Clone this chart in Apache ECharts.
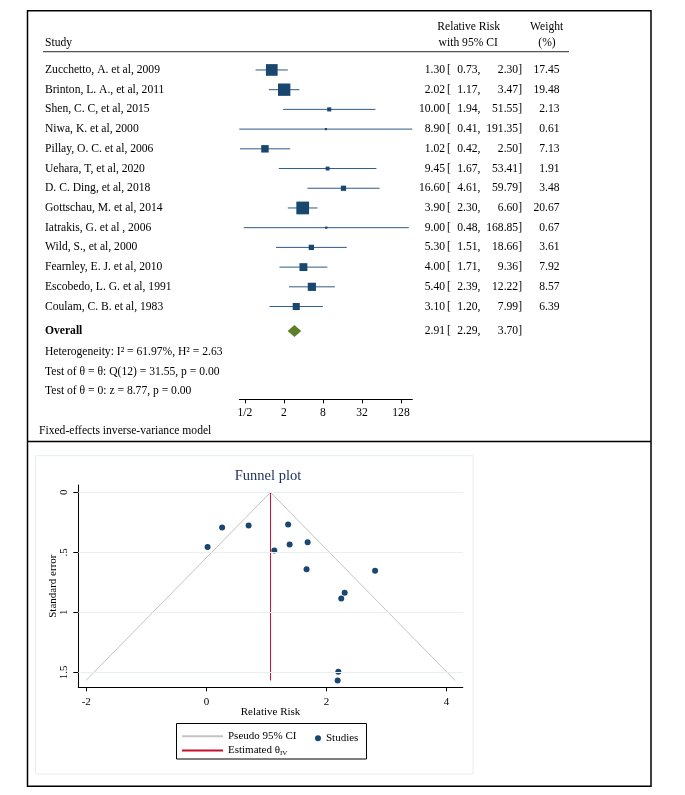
<!DOCTYPE html>
<html><head><meta charset="utf-8">
<script src="https://cdn.jsdelivr.net/npm/echarts@6.0.0/dist/echarts.min.js"></script>
<style>html,body{margin:0;padding:0;background:#fff}#c{width:685px;height:795px}</style>
</head><body><div id="c"></div>
<script>
// ---------- Forest plot data ----------
const studies = ['Zucchetto, A. et al, 2009','Brinton, L. A., et al, 2011','Shen, C. C, et al, 2015','Niwa, K. et al, 2000','Pillay, O. C. et al, 2006','Uehara, T, et al, 2020','D. C. Ding, et al, 2018','Gottschau, M. et al, 2014','Iatrakis, G. et al , 2006','Wild, S., et al, 2000','Fearnley, E. J. et al, 2010','Escobedo, L. G. et al, 1991','Coulam, C. B. et al, 1983'];
const rr      = [1.30, 2.02, 10.00, 8.90, 1.02, 9.45, 16.60, 3.90, 9.00, 5.30, 4.00, 5.40, 3.10];
const ciLow   = [0.73, 1.17, 1.94, 0.41, 0.42, 1.67, 4.61, 2.30, 0.48, 1.51, 1.71, 2.39, 1.20];
const ciHigh  = [2.30, 3.47, 51.55, 191.35, 2.50, 53.41, 59.79, 6.60, 168.85, 18.66, 9.36, 12.22, 7.99];
const weights = [17.45, 19.48, 2.13, 0.61, 7.13, 1.91, 3.48, 20.67, 0.67, 3.61, 7.92, 8.57, 6.39];
const overallLabel = 'Overall';
const overallRR = [2.91];
const overallLow = [2.29];
const overallHigh = [3.70];
const statLines = ['Heterogeneity: I\u00B2 = 61.97%, H\u00B2 = 2.63','Test of \u03B8 = \u03B8: Q(12) = 31.55, p = 0.00','Test of \u03B8 = 0: z = 8.77, p = 0.00'];
const footnote = 'Fixed-effects inverse-variance model';
const forestTicks = [0.5, 2, 8, 32, 128];
const forestTickLabels = ['1/2', '2', '8', '32', '128'];

// ---------- Funnel plot data ----------
const funnelLogRR = [0.262, 0.703, 2.303, 2.186, 0.020, 2.246, 2.809, 1.361, 2.197, 1.668, 1.386, 1.686, 1.131];
const funnelSE    = [0.293, 0.277, 0.837, 1.568, 0.455, 0.884, 0.654, 0.269, 1.496, 0.641, 0.434, 0.416, 0.484];
const pseudoCIx = [-2.005, 1.068, 4.141];
const pseudoCIy = [1.568, 0, 1.568];
const thetaX = [1.068, 1.068];
const thetaY = [0, 1.568];
const funnelXTicks = [-2, 0, 2, 4];
const funnelYTicks = [0, 0.5, 1, 1.5];
const funnelYTickLabels = ['0', '.5', '1', '1.5'];

const FONT = '"Liberation Serif","Times New Roman",serif';
const FS = 11.6;
const overallRow = 13.24;
const f2 = v => v.toFixed(2);

function txt(text, x, y, align, opts) {
  opts = opts || {};
  return {type:'text', silent:true, style:{text:text, x:x, y:y, textAlign:align, textVerticalAlign:'middle', align:align, verticalAlign:'middle',
    font:(opts.bold?'bold ':'') + (opts.size||FS) + 'px ' + FONT, fill:opts.color||'#000'}};
}

function rowTexts(y, name, r, lo, hi, w, bold) {
  const ch = [txt(name, 45, y, 'left', {bold:bold}),
    txt(f2(r), 445, y, 'right'),
    txt('[', 447, y, 'left'),
    txt(f2(lo) + ',', 480.5, y, 'right'),
    txt(f2(hi) + ']', 522, y, 'right')];
  if (w != null) ch.push(txt(f2(w), 559.5, y, 'right'));
  return ch;
}

const chart = echarts.init(document.getElementById('c'), null, {renderer:'canvas'});

const forestData = studies.map((s, i) => [i, ciLow[i], ciHigh[i], rr[i], weights[i]]);

const option = {
  animation: false,
  backgroundColor: '#fff',
  textStyle: {fontFamily: FONT},
  grid: [
    {left: 239.3, top: 60.1, width: 173, height: 339.3, outerBoundsMode: 'none'},
    {left: 78.3, top: 485, width: 384.5, height: 202.3, outerBoundsMode: 'none'}
  ],
  xAxis: [
    {gridIndex: 0, type: 'log', logBase: 2, min: 0.41, max: 191.35, position: 'bottom',
      axisLine: {show: true, onZero: false, lineStyle: {color: '#000', width: 1}},
      axisTick: {show: true, length: 4, customValues: forestTicks, lineStyle: {color: '#000', width: 1}},
      axisLabel: {show: true, customValues: forestTicks, margin: 8, color: '#000', fontSize: FS, fontFamily: FONT,
        formatter: function (v) {
          let best = 0, d = Infinity;
          forestTicks.forEach((t, k) => { const dd = Math.abs(Math.log(t) - Math.log(v)); if (dd < d) { d = dd; best = k; } });
          return forestTickLabels[best];
        }},
      splitLine: {show: false}, minorTick: {show: false}, minorSplitLine: {show: false}},
    {gridIndex: 1, type: 'value', min: -2.133, max: 4.27, position: 'bottom',
      name: 'Relative Risk', nameLocation: 'middle', nameGap: 19.5, nameMoveOverlap: false,
      nameTextStyle: {color: '#000', fontSize: 11, fontFamily: FONT},
      axisLine: {show: true, onZero: false, lineStyle: {color: '#000', width: 1}},
      axisTick: {show: true, length: 4, customValues: funnelXTicks, lineStyle: {color: '#000', width: 1}},
      axisLabel: {show: true, customValues: funnelXTicks, margin: 9.5, color: '#000', fontSize: 11, fontFamily: FONT,
        formatter: v => String(Math.round(v))},
      splitLine: {show: false}}
  ],
  yAxis: [
    {gridIndex: 0, type: 'value', inverse: true, min: -0.5, max: 16.71, show: false},
    {gridIndex: 1, type: 'value', inverse: true, min: -0.061, max: 1.625, position: 'left',
      name: 'Standard error', nameLocation: 'middle', nameGap: 19.5, nameRotate: 90, nameMoveOverlap: false,
      nameTextStyle: {color: '#000', fontSize: 11, fontFamily: FONT},
      axisLine: {show: true, onZero: false, lineStyle: {color: '#000', width: 1}},
      axisTick: {show: true, length: 5, customValues: funnelYTicks, lineStyle: {color: '#000', width: 1}},
      axisLabel: {show: true, customValues: funnelYTicks, rotate: 90, margin: 9, color: '#000', fontSize: 11, fontFamily: FONT,
        formatter: function (v) {
          let best = 0, d = Infinity;
          funnelYTicks.forEach((t, k) => { const dd = Math.abs(t - v); if (dd < d) { d = dd; best = k; } });
          return funnelYTickLabels[best];
        }},
      splitLine: {show: false}}
  ],
  legend: [
    {selectedMode: false, orient: 'vertical', left: 181, top: 730.8, padding: 0, itemWidth: 41, itemHeight: 10, itemGap: 3.3,
      itemStyle: {opacity: 0},
      data: ['Pseudo 95% CI', 'Estimated \u03B8IV'],
      textStyle: {color: '#000', fontSize: 11, fontFamily: FONT, rich: {sub: {fontSize: 7, fontFamily: FONT, color: '#000', padding: [5, 0, 0, 0]}}},
      formatter: n => n === 'Estimated \u03B8IV' ? 'Estimated \u03B8{sub|IV}' : n},
    {selectedMode: false, orient: 'horizontal', left: 315, top: 732.7, padding: 0, itemWidth: 6, itemHeight: 6,
      data: [{name: 'Studies', icon: 'circle'}],
      textStyle: {color: '#000', fontSize: 11, fontFamily: FONT}}
  ],
  series: [
    {name: 'forest', type: 'custom', xAxisIndex: 0, yAxisIndex: 0, silent: true, clip: false,
      encode: {x: [1, 2, 3], y: 0},
      data: forestData,
      renderItem: function (params, api) {
        const row = api.value(0);
        const a = api.coord([api.value(1), row]);
        const b = api.coord([api.value(2), row]);
        const c = api.coord([api.value(3), row]);
        const s = 2.8 * Math.sqrt(api.value(4));
        return {type: 'group', children: [
          {type: 'line', shape: {x1: a[0], y1: a[1], x2: b[0], y2: b[1]}, style: {stroke: '#2e5a86', lineWidth: 1}},
          {type: 'rect', shape: {x: c[0] - s / 2, y: c[1] - s / 2, width: s, height: s}, style: {fill: '#1a476f'}}
        ]};
      }},
    {name: 'overall', type: 'custom', xAxisIndex: 0, yAxisIndex: 0, silent: true, clip: false,
      encode: {x: [1, 2, 3], y: 0},
      data: [[overallRow, overallLow[0], overallHigh[0], overallRR[0]]],
      renderItem: function (params, api) {
        const row = api.value(0);
        const a = api.coord([api.value(1), row]);
        const b = api.coord([api.value(2), row]);
        const c = api.coord([api.value(3), row]);
        return {type: 'polygon', shape: {points: [[a[0], a[1]], [c[0], c[1] - 6], [b[0], b[1]], [c[0], c[1] + 6]]}, style: {fill: '#5e7f2a'}};
      }},
    {name: 'table', type: 'custom', xAxisIndex: 0, yAxisIndex: 0, silent: true, clip: false,
      encode: {y: 0},
      data: studies.map((s, i) => [i]),
      renderItem: function (params, api) {
        const i = params.dataIndex;
        const y = api.coord([1, api.value(0)])[1];
        return {type: 'group', children: rowTexts(y, studies[i], rr[i], ciLow[i], ciHigh[i], weights[i], false)};
      }},
    {name: 'overallTable', type: 'custom', xAxisIndex: 0, yAxisIndex: 0, silent: true, clip: false,
      encode: {y: 0},
      data: [[overallRow]],
      renderItem: function (params, api) {
        const y = api.coord([1, api.value(0)])[1];
        return {type: 'group', children: rowTexts(y, overallLabel, overallRR[0], overallLow[0], overallHigh[0], null, true)};
      }},
    {name: 'Pseudo 95% CI', type: 'line', xAxisIndex: 1, yAxisIndex: 1, symbol: 'none', silent: true, z: 2,
      data: pseudoCIx.map((x, i) => [x, pseudoCIy[i]]),
      lineStyle: {color: '#c4c4c4', width: 1}, itemStyle: {color: '#c4c4c4'},
      markLine: {silent: true, symbol: ['none', 'none'], label: {show: false}, animation: false,
        lineStyle: {color: '#e8f0f2', type: 'solid', width: 1},
        data: funnelYTicks.map(v => ({yAxis: v}))}},
    {name: 'Estimated \u03B8IV', type: 'line', xAxisIndex: 1, yAxisIndex: 1, symbol: 'none', silent: true, z: 3,
      data: thetaX.map((x, i) => [x, thetaY[i]]),
      lineStyle: {color: '#c8102e', width: 1}, itemStyle: {color: '#c8102e'}},
    {name: 'Studies', type: 'scatter', xAxisIndex: 1, yAxisIndex: 1, symbol: 'circle', symbolSize: 6, silent: true, z: 4,
      data: funnelLogRR.map((x, i) => [x, funnelSE[i]]),
      itemStyle: {color: '#1a476f', opacity: 1}}
  ],
  graphic: [
    {type: 'rect', silent: true, shape: {x: 27.5, y: 10.7, width: 623.5, height: 775.5}, style: {fill: 'none', stroke: '#000', lineWidth: 1.5}},
    {type: 'line', silent: true, shape: {x1: 27.5, y1: 441.5, x2: 651, y2: 441.5}, style: {stroke: '#000', lineWidth: 1.5}},
    {type: 'rect', silent: true, shape: {x: 35.5, y: 455.7, width: 437.5, height: 318.3}, style: {fill: 'none', stroke: '#e6eef0', lineWidth: 1}},
    {type: 'line', silent: true, shape: {x1: 43, y1: 51.7, x2: 569, y2: 51.7}, style: {stroke: '#555', lineWidth: 1.2}},
    txt('Study', 45, 43.3, 'left'),
    txt('Relative Risk', 468.7, 26.7, 'center'),
    txt('with 95% CI', 468.2, 43.3, 'center'),
    txt('Weight', 546.7, 26.7, 'center'),
    txt('(%)', 547, 43.3, 'center'),
    txt(statLines[0], 45, 351.7, 'left'),
    txt(statLines[1], 45, 371.7, 'left'),
    txt(statLines[2], 45, 390.7, 'left'),
    txt(footnote, 39, 431, 'left'),
    txt('Funnel plot', 268, 476, 'center', {size: 14.5, color: '#1a2d5a'}),
    {type: 'rect', silent: true, shape: {x: 176.5, y: 723.5, width: 190, height: 35.5}, style: {fill: 'none', stroke: '#000', lineWidth: 1}}
  ]
};
chart.setOption(option);
</script></body></html>
